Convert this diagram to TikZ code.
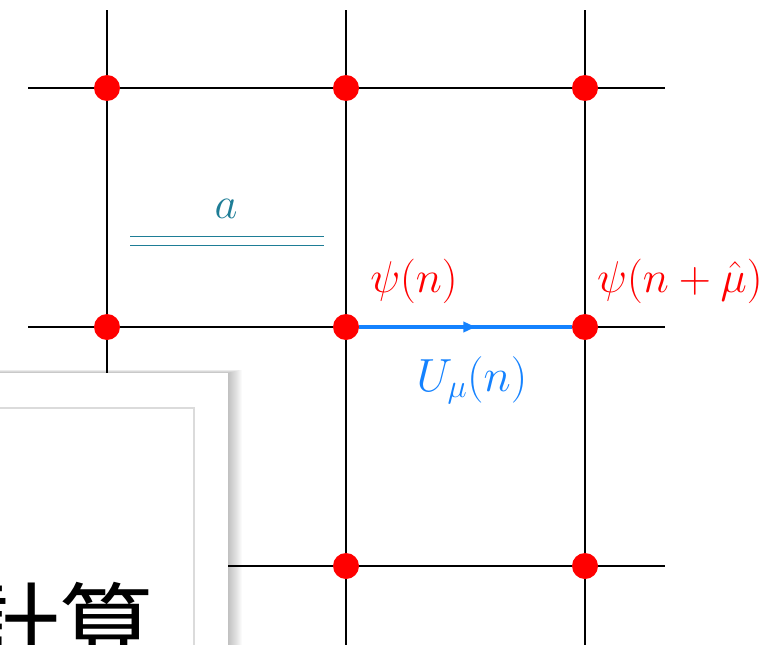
\RequirePackage{fix-cm}
\documentclass[tikz,border=0pt]{standalone}
\usepackage{fontspec}
\newfontfamily\cjk{Noto Sans CJK JP}
\usetikzlibrary{arrows.meta,decorations.markings}
\definecolor{sitered}{RGB}{255,0,0}
\definecolor{linkblue}{RGB}{20,130,255}
\definecolor{spacteal}{RGB}{30,125,150}
\begin{document}
\begin{tikzpicture}[x=1pt,y=-1pt,
  gridline/.style={black,line width=2pt},
  site/.style={circle,fill=sitered,minimum size=26pt,inner sep=0pt},
  lab/.style={inner sep=0pt,font=\fontsize{44.5}{52}\selectfont},
  linkline/.style={linkblue,line width=3.5pt,
    postaction={decorate},
    decoration={markings,mark=at position 0.56 with {\arrow{Latex[length=15pt,width=12pt]}}}},
  spacing/.style={spacteal,line width=1.5pt}]
\useasboundingbox (0,0) rectangle (766,645);
\clip (0,0) rectangle (766,645);
% grid end points
\foreach \x/\n in {107/1,346/2,585/3}{
  \coordinate (vt\n) at (\x,10);
  \coordinate (vb\n) at (\x,650);
}
\foreach \y/\n in {88/1,327/2,566/3}{
  \coordinate (hl\n) at (28,\y);
  \coordinate (hr\n) at (665,\y);
}
\foreach \n in {1,2,3}{
  \draw[gridline] (vt\n) -- (vb\n);
  \draw[gridline] (hl\n) -- (hr\n);
}
% sites
\node[site] (s11) at (107,88) {};
\node[site] (s12) at (346,88) {};
\node[site] (s13) at (585,88) {};
\node[site] (s21) at (107,327) {};
\node[site] (s22) at (346,327) {};
\node[site] (s23) at (585,327) {};
\node[site] (s31) at (107,566) {};
\node[site] (s32) at (346,566) {};
\node[site] (s33) at (585,566) {};
% link
\draw[linkline] (s22) -- (s23);
% lattice spacing
\coordinate (da1) at (130,236.5);
\coordinate (db1) at (324,236.5);
\coordinate (da2) at (130,245.5);
\coordinate (db2) at (324,245.5);
\draw[spacing] (da1) -- (db1);
\draw[spacing] (da2) -- (db2);
\node[lab,anchor=base,text=spacteal] (alab) at (226,218) {$a$};
% labels
\node[lab,anchor=base,text=sitered] (psin) at (414,292) {$\psi(n)$};
\node[lab,anchor=base west,text=sitered] (psinmu) at (597,292) {$\psi(n+\hat{\mu})$};
\node[lab,anchor=base,text=linkblue,font=\fontsize{46.5}{54}\selectfont] (ulab) at (472,391) {$U_\mu(n)$};
% overlapping slide box with soft shadow
\foreach \i in {1,...,14}{
  \fill[black,opacity=0.018] (-20,373-\i*0.25) rectangle (228+\i,700);
}
\node[draw=none,fill=white,minimum width=250pt,minimum height=330pt,anchor=north east,inner sep=0pt] (panel) at (228,373) {};
\coordinate (ibl) at (-20,700);
\coordinate (itr) at (194,408);
\draw[black!14,line width=1.5pt] (ibl) rectangle (itr);
\node[inner sep=0pt,anchor=base,font=\cjk\fontsize{95}{110}\selectfont] (calc) at (60,662) {計算};
\end{tikzpicture}
\end{document}
